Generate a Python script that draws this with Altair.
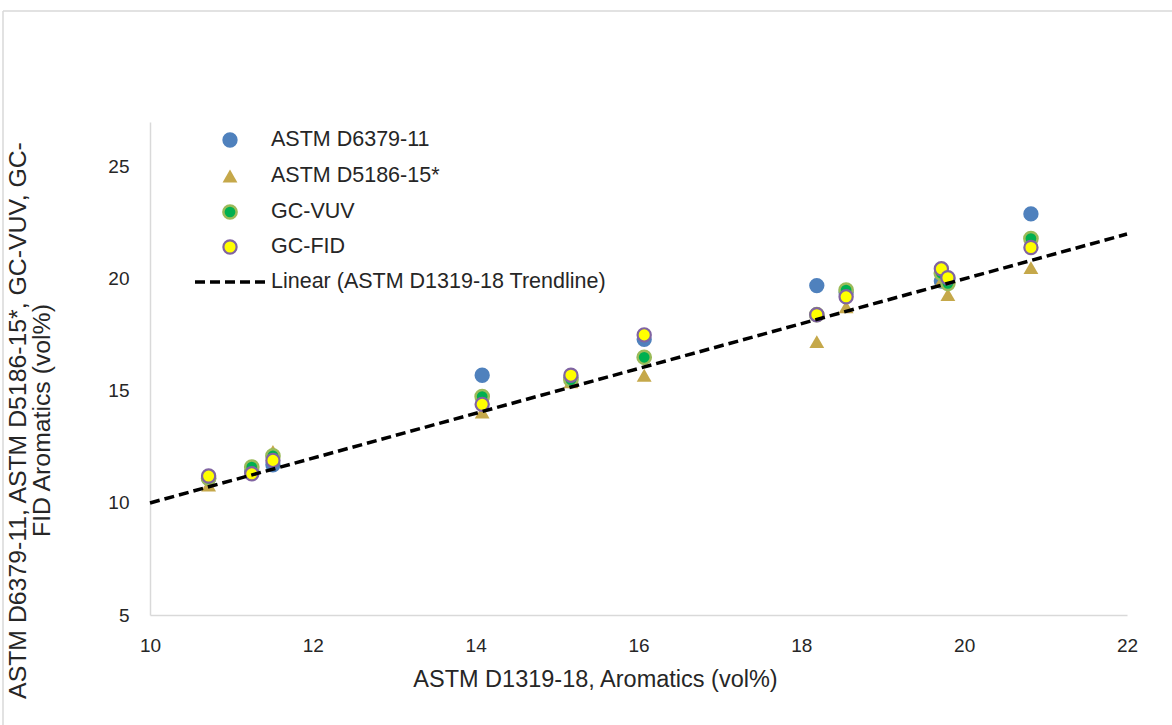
import altair as alt
import pandas as pd

# ---- data ----
d1319_x = [10.72, 11.25, 11.51, 14.08, 15.17, 16.07, 18.19, 18.55, 19.72, 19.80, 20.82]
d6379 = [11.1, 11.4, 11.7, 15.7, 15.6, 17.3, 19.7, 19.4, 19.9, 20.0, 22.9]
d5186 = [10.8, 11.5, 12.3, 14.05, 15.4, 15.7, 17.2, 18.75, 19.9, 19.3, 20.5]
gcvuv = [11.1, 11.6, 12.1, 14.75, 15.5, 16.5, 18.4, 19.5, 20.25, 19.8, 21.8]
gcfid = [11.2, 11.3, 11.9, 14.4, 15.7, 17.5, 18.4, 19.2, 20.45, 20.05, 21.4]
trend_x = [10, 22]
trend_y = [10, 22]

series_names = ["ASTM D6379-11", "ASTM D5186-15*", "GC-VUV", "GC-FID"]
trend_name = "Linear (ASTM D1319-18 Trendline)"
x_ticks = [10, 12, 14, 16, 18, 20, 22]
y_ticks = [5, 10, 15, 20, 25]

FONT = "Liberation Sans"
TXT = "#262626"
W, H = 977, 493

def df_for(vals):
    return pd.DataFrame({"x": d1319_x, "y": vals})

xs = alt.Scale(domain=[10, 22], nice=False, zero=False)
ys = alt.Scale(domain=[5, 27], nice=False, zero=False)

x_enc = alt.X("x:Q", scale=xs, axis=alt.Axis(
    values=x_ticks, format="d", grid=False, ticks=False, domainColor="#D9D9D9", domainWidth=1.5,
    labelFont=FONT, labelFontSize=19, labelColor=TXT, labelPadding=21, labelFlush=False,
    labelOverlap=False,
    title="ASTM D1319-18, Aromatics (vol%)", titleFont=FONT, titleFontSize=23.5,
    titleFontWeight="normal", titleColor=TXT, titleX=445, titleY=52,
    titleBaseline="top", titleAlign="center"))
y_enc = alt.Y("y:Q", scale=ys, axis=alt.Axis(
    values=y_ticks, format="d", grid=False, ticks=False, domainColor="#D9D9D9", domainWidth=1.5,
    labelFont=FONT, labelFontSize=19, labelColor=TXT, labelPadding=21, labelFlush=False,
    title=["ASTM D6379-11, ASTM D5186-15*, GC-VUV, GC-", "FID Aromatics (vol%)"],
    titleFont=FONT, titleFontSize=24.8, titleFontWeight="normal", titleColor=TXT,
    titleLineHeight=24.5, titleAngle=-90, titleX=-145, titleY=298,
    titleBaseline="top", titleAlign="center"))

blue = alt.Chart(df_for(d6379)).mark_circle(size=235, color="#4F81BD", opacity=1).encode(x=x_enc, y=y_enc)
tri = alt.Chart(df_for(d5186)).mark_point(shape="triangle-up", filled=True, size=220,
                                         color="#C5A84A", opacity=1).encode(x="x:Q", y="y:Q")
green = alt.Chart(df_for(gcvuv)).mark_point(shape="circle", filled=True, size=175, fill="#00B050",
                                           stroke="#9BBB59", strokeWidth=2.5, opacity=1,
                                           fillOpacity=1).encode(x="x:Q", y="y:Q")
yellow = alt.Chart(df_for(gcfid)).mark_point(shape="circle", filled=True, size=175, fill="#FFFF00",
                                            stroke="#8064A2", strokeWidth=2.2, opacity=1,
                                            fillOpacity=1).encode(x="x:Q", y="y:Q")
trend = alt.Chart(pd.DataFrame({"x": trend_x, "y": trend_y})).mark_line(
    color="black", strokeWidth=3.5, strokeDash=[10, 5]).encode(x="x:Q", y="y:Q")

# ---- manual legend (layout positions in pixels) ----
row_y = [18, 54, 90, 125]
leg_sym_x = 80
leg_text_x = 121
leg = pd.DataFrame({"name": series_names, "ly": row_y, "lx": [leg_sym_x] * 4})

def leg_df(i):
    return leg.iloc[[i]]

lx = alt.X("lx:Q", scale=None)
ly = alt.Y("ly:Q", scale=None)
lb = alt.Chart(leg_df(0)).mark_circle(size=235, color="#4F81BD", opacity=1).encode(x=lx, y=ly)
lt = alt.Chart(leg_df(1)).mark_point(shape="triangle-up", filled=True, size=220, color="#C5A84A",
                                     opacity=1).encode(x=lx, y=ly)
lg = alt.Chart(leg_df(2)).mark_point(shape="circle", filled=True, size=175, fill="#00B050",
                                     stroke="#9BBB59", strokeWidth=2.5, opacity=1).encode(x=lx, y=ly)
ly_ = alt.Chart(leg_df(3)).mark_point(shape="circle", filled=True, size=175, fill="#FFFF00",
                                      stroke="#8064A2", strokeWidth=2.2, opacity=1).encode(x=lx, y=ly)
leg_text_df = pd.DataFrame({"name": series_names + [trend_name],
                            "ly": row_y + [160], "tx": [leg_text_x] * 5})
ltxt = alt.Chart(leg_text_df).mark_text(align="left", baseline="middle", font=FONT, fontSize=21.5,
                                        color=TXT).encode(
    x=alt.X("tx:Q", scale=None), y=ly, text="name:N")
ldash = alt.Chart(pd.DataFrame({"name": [trend_name]})).mark_rule(
    color="black", strokeWidth=3.5, strokeDash=[10, 5]).encode(
    x=alt.value(45), x2=alt.value(116), y=alt.value(160))

# ---- outer chart-area frame ----
frame_top = alt.Chart(pd.DataFrame({"a": [0]})).mark_rule(color="#D9D9D9", strokeWidth=1.5).encode(
    x=alt.value(-147), x2=alt.value(1030), y=alt.value(-111))
frame_left = alt.Chart(pd.DataFrame({"a": [0]})).mark_rule(color="#D9D9D9", strokeWidth=1.5).encode(
    x=alt.value(-147), y=alt.value(-111), y2=alt.value(620))

chart = alt.layer(blue, tri, green, yellow, trend, lb, lt, lg, ly_, ltxt, ldash,
                  frame_top, frame_left).properties(
    width=W, height=H,
    background="white",
    autosize=alt.AutoSizeParams(type="none"),
    padding={"left": 150, "top": 122, "right": 45, "bottom": 110},
).configure_view(stroke=None)

chart.save("out.html", embed_options={"renderer": "svg", "actions": False})
